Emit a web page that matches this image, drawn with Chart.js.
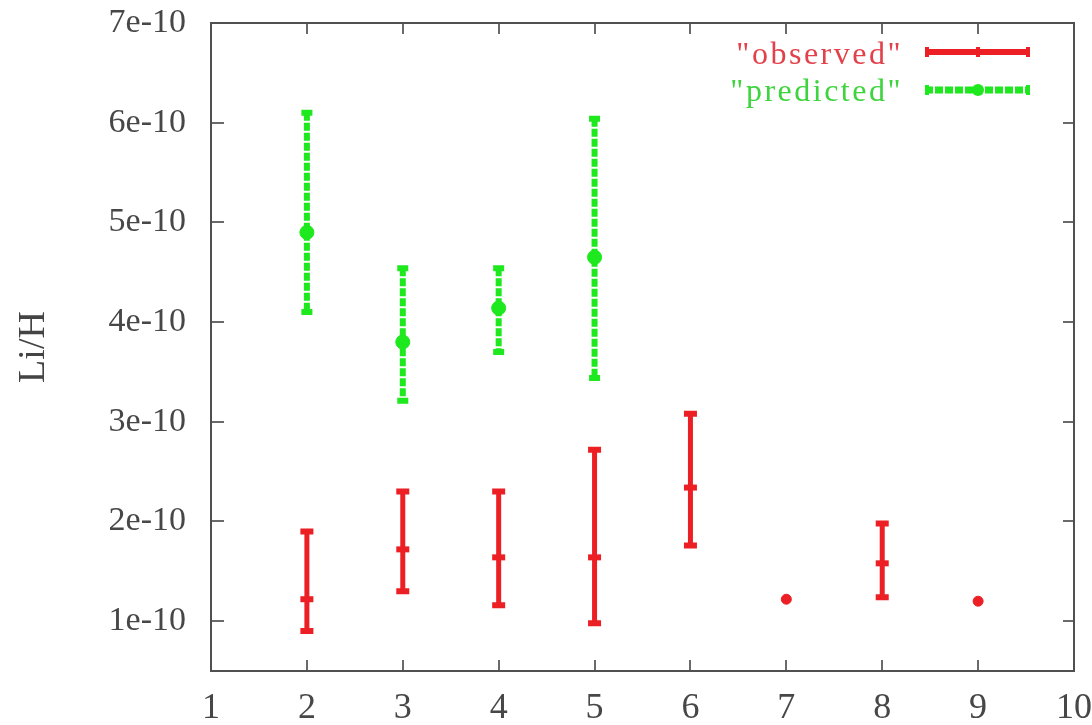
<!DOCTYPE html>
<html>
<head>
<meta charset="utf-8">
<title>Li/H</title>
<script src="https://cdn.jsdelivr.net/npm/chart.js@4/dist/chart.umd.min.js"></script>
<style>
  html, body { margin: 0; padding: 0; background: #ffffff; }
  canvas { display: block; }
</style>
</head>
<body>
<canvas id="chart" width="1092" height="725"></canvas>
<script>
// Axis ticks and their labels
const xTicks = [1, 2, 3, 4, 5, 6, 7, 8, 9, 10];
const xTickLabels = ['1', '2', '3', '4', '5', '6', '7', '8', '9', '10'];
const yTicks = [1e-10, 2e-10, 3e-10, 4e-10, 5e-10, 6e-10, 7e-10];
const yTickLabels = ['1e-10', '2e-10', '3e-10', '4e-10', '5e-10', '6e-10', '7e-10'];

// Observed Li/H with lower / upper bounds (null = no error range)
const obsX = [2, 3, 4, 5, 6, 7, 8, 9];
const obsY = [1.22e-10, 1.72e-10, 1.64e-10, 1.64e-10, 2.34e-10, 1.22e-10, 1.58e-10, 1.20e-10];
const obsLow = [0.90e-10, 1.30e-10, 1.16e-10, 0.98e-10, 1.76e-10, null, 1.24e-10, null];
const obsHigh = [1.90e-10, 2.30e-10, 2.30e-10, 2.72e-10, 3.08e-10, null, 1.98e-10, null];

// Predicted Li/H with lower / upper bounds
const predX = [2, 3, 4, 5];
const predY = [4.90e-10, 3.80e-10, 4.14e-10, 4.65e-10];
const predLow = [4.10e-10, 3.21e-10, 3.70e-10, 3.44e-10];
const predHigh = [6.10e-10, 4.54e-10, 4.54e-10, 6.04e-10];

const RED = '#ec1f24';
const GREEN = '#1ee81e';
const SERIF = "'Liberation Serif', 'Times New Roman', serif";

function points(xs, ys, lo, hi) {
  return xs.map((x, i) => ({ x: x, y: ys[i], yMin: lo[i], yMax: hi[i] }));
}

// Vertical error bars with caps, drawn through the chart scales
const errorBars = {
  id: 'errorBars',
  beforeDatasetsDraw(chart) {
    const { ctx, scales: { x, y } } = chart;
    chart.data.datasets.forEach((ds) => {
      const st = ds.errorStyle;
      ctx.save();
      ctx.strokeStyle = st.color;
      ds.data.forEach(p => {
        if (p.yMin == null || p.yMax == null) return;
        const px = x.getPixelForValue(p.x);
        const pLo = y.getPixelForValue(p.yMin);
        const pHi = y.getPixelForValue(p.yMax);
        ctx.lineWidth = st.width;
        ctx.setLineDash(st.dash);
        ctx.beginPath();
        ctx.moveTo(px, pHi);
        ctx.lineTo(px, pLo);
        ctx.stroke();
        ctx.setLineDash([]);
        ctx.lineWidth = st.capThickness;
        ctx.beginPath();
        ctx.moveTo(px - st.capWidth / 2, pHi);
        ctx.lineTo(px + st.capWidth / 2, pHi);
        ctx.moveTo(px - st.capWidth / 2, pLo);
        ctx.lineTo(px + st.capWidth / 2, pLo);
        ctx.stroke();
      });
      ctx.restore();
    });
  }
};

// Closed frame with inward tick marks on all four sides
const frame = {
  id: 'frame',
  afterDatasetsDraw(chart) {
    const { ctx, chartArea: a, scales: { x, y } } = chart;
    ctx.save();
    ctx.strokeStyle = '#6a6a6a';
    ctx.lineWidth = 2;
    xTicks.forEach(v => {
      const px = Math.round(x.getPixelForValue(v));
      ctx.beginPath();
      ctx.moveTo(px, a.bottom); ctx.lineTo(px, a.bottom - 11);
      ctx.moveTo(px, a.top); ctx.lineTo(px, a.top + 11);
      ctx.stroke();
    });
    yTicks.forEach(v => {
      const py = Math.round(y.getPixelForValue(v));
      ctx.beginPath();
      ctx.moveTo(a.left, py); ctx.lineTo(a.left + 13, py);
      ctx.moveTo(a.right, py); ctx.lineTo(a.right - 11, py);
      ctx.stroke();
    });
    ctx.strokeStyle = '#505050';
    ctx.lineWidth = 2;
    ctx.strokeRect(a.left, a.top, a.right - a.left, a.bottom - a.top);
    ctx.restore();
  }
};

// Key in the upper right: label text followed by a sample of the series style
const key = {
  id: 'key',
  afterDraw(chart) {
    const { ctx } = chart;
    const textRight = 903, x0 = 925, x1 = 1030, xm = 978;
    const rows = [{ line: 52, base: 64 }, { line: 90, base: 101 }];
    chart.data.datasets.forEach((ds, i) => {
      const r = rows[i];
      const st = ds.errorStyle;
      ctx.save();
      ctx.font = '32px ' + SERIF;
      ctx.letterSpacing = '2.5px';
      ctx.fillStyle = ds.keyTextColor;
      ctx.textAlign = 'right';
      ctx.textBaseline = 'alphabetic';
      ctx.fillText(ds.label, textRight, r.base);
      ctx.letterSpacing = '0px';
      ctx.strokeStyle = st.color;
      ctx.lineWidth = st.width + 1;
      ctx.setLineDash(st.dash);
      ctx.beginPath();
      ctx.moveTo(x0, r.line); ctx.lineTo(x1, r.line);
      ctx.stroke();
      ctx.setLineDash([]);
      ctx.lineWidth = 4;
      ctx.beginPath();
      [x0 + 2, x1 - 2].forEach(cx => { ctx.moveTo(cx, r.line - 5); ctx.lineTo(cx, r.line + 5); });
      ctx.stroke();
      ctx.fillStyle = st.color;
      ctx.beginPath();
      if (ds.keyMarker === 'circle') {
        ctx.arc(xm, r.line, 6, 0, Math.PI * 2);
      } else {
        ctx.rect(xm - 2, r.line - 5, 4, 10);
      }
      ctx.fill();
      ctx.restore();
    });
  }
};

new Chart(document.getElementById('chart'), {
  type: 'scatter',
  data: {
    datasets: [
      {
        label: '"observed"',
        data: points(obsX, obsY, obsLow, obsHigh),
        backgroundColor: RED,
        borderColor: RED,
        pointStyle: c => (c.raw && c.raw.yMin == null ? 'circle' : 'line'),
        pointRadius: c => (c.raw && c.raw.yMin == null ? 5 : 6.5),
        pointBorderWidth: c => (c.raw && c.raw.yMin == null ? 1 : 6),
        errorStyle: { color: RED, width: 5, dash: [], capWidth: 13, capThickness: 6 },
        keyTextColor: '#e2404a',
        keyMarker: 'tick'
      },
      {
        label: '"predicted"',
        data: points(predX, predY, predLow, predHigh),
        backgroundColor: GREEN,
        borderColor: GREEN,
        pointStyle: 'circle',
        pointRadius: 7,
        pointBorderWidth: 1,
        errorStyle: { color: GREEN, width: 6, dash: [8, 2], capWidth: 11, capThickness: 6 },
        keyTextColor: '#3dd43d',
        keyMarker: 'circle'
      }
    ]
  },
  options: {
    responsive: false,
    animation: false,
    events: [],
    layout: { padding: { top: 23, right: 18, bottom: 0, left: 0 } },
    plugins: {
      legend: { display: false },
      tooltip: { enabled: false }
    },
    scales: {
      x: {
        type: 'linear',
        min: 1,
        max: 10,
        grid: { display: false, drawTicks: false },
        border: { display: false },
        afterBuildTicks: s => { s.ticks = xTicks.map(v => ({ value: v })); },
        afterFit: s => { s.height = 54; s.paddingLeft = 0; s.paddingRight = 0; },
        ticks: {
          autoSkip: false,
          maxRotation: 0,
          padding: 16,
          color: '#474747',
          font: { family: SERIF, size: 36 },
          callback: v => xTickLabels[xTicks.indexOf(v)]
        }
      },
      y: {
        type: 'linear',
        min: 0.5e-10,
        max: 7e-10,
        grid: { display: false, drawTicks: false },
        border: { display: false },
        afterBuildTicks: s => { s.ticks = yTicks.map(v => ({ value: v })); },
        afterFit: s => { s.width = 211; s.paddingTop = 0; s.paddingBottom = 0; },
        ticks: {
          padding: 25,
          color: '#474747',
          font: { family: SERIF, size: 34 },
          callback: v => yTickLabels[yTicks.findIndex(t => Math.abs(t - v) < 1e-14)]
        },
        title: {
          display: true,
          text: 'Li/H',
          color: '#444444',
          padding: { top: 11, bottom: 0 },
          font: { family: SERIF, size: 38 }
        }
      }
    }
  },
  plugins: [errorBars, frame, key]
});
</script>
</body>
</html>
